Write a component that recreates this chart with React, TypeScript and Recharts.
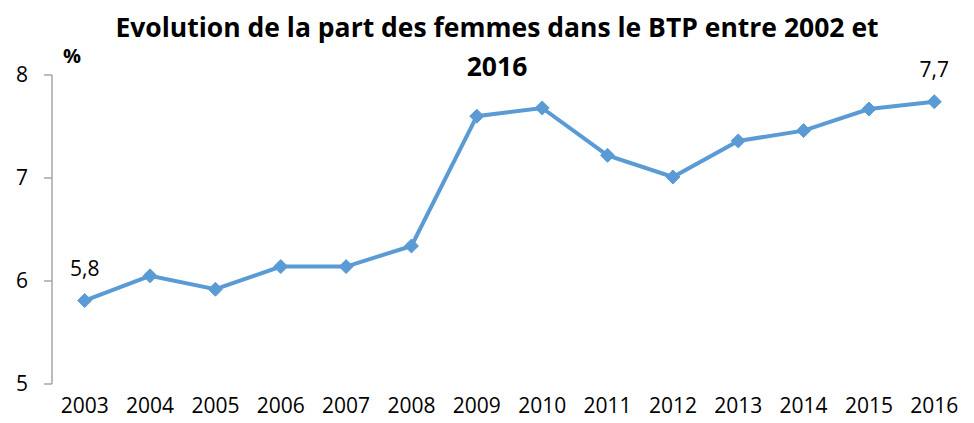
import React from "react";
import { LineChart, Line, XAxis, YAxis } from "recharts";

const years = ["2003","2004","2005","2006","2007","2008","2009","2010","2011","2012","2013","2014","2015","2016"];
const womenShare = [5.81, 6.05, 5.92, 6.14, 6.14, 6.34, 7.6, 7.68, 7.22, 7.01, 7.36, 7.46, 7.67, 7.74];
const yTicks = [5, 6, 7, 8];
const titleLine1 = "Evolution de la part des femmes dans le BTP entre 2002 et";
const titleLine2 = "2016";
const unitLabel = "%";

const data = years.map((y, i) => ({ pos: i + 0.5, year: y, value: womenShare[i] }));
const boundaryTicks = years.map((_, i) => i).concat([years.length]);
const centerTicks = years.map((_, i) => i + 0.5);

const FONT = "'Open Sans', sans-serif";
const BLUE = "#5B9BD5";
const AXIS = "#A6A6A6";

const Diamond = (props: any) => {
  const { cx, cy } = props;
  if (cx == null || cy == null) return null;
  const r = 7;
  return <polygon points={`${cx},${cy - r} ${cx + r},${cy} ${cx},${cy + r} ${cx - r},${cy}`} fill={BLUE} stroke={BLUE} />;
};

const EndLabel = (props: any) => {
  const { x, y, value, index } = props;
  if (index !== 0 && index !== years.length - 1) return null;
  return (
    <text x={x} y={y - 33} textAnchor="middle" dominantBaseline="central" fontFamily={FONT} fontSize={21} fill="#000">
      {Number(value).toFixed(1).replace(".", ",")}
    </text>
  );
};

export default function App() {
  return (
    <div style={{ position: "absolute", left: 0, top: 0, width: 974, height: 423, background: "#fff" }}>
      <div style={{ position: "absolute", left: 0, width: 994, top: 8, textAlign: "center", fontFamily: FONT, fontWeight: 700, fontSize: 26.5, lineHeight: "39px", color: "#000", whiteSpace: "nowrap" }}>
        {titleLine1}
        <br />
        {titleLine2}
      </div>
      <div style={{ position: "absolute", left: 63, top: 42, fontFamily: FONT, fontWeight: 700, fontSize: 20, color: "#000" }}>{unitLabel}</div>
      <LineChart width={974} height={423} data={data} margin={{ top: 75, right: 7, left: 0, bottom: 0 }}>
        <XAxis xAxisId="grid" type="number" dataKey="pos" domain={[0, years.length]} ticks={boundaryTicks} tick={false} height={0}
          axisLine={{ stroke: AXIS, strokeWidth: 1.5 }} tickLine={{ stroke: AXIS, strokeWidth: 1.5 }} tickSize={7} allowDataOverflow />
        <XAxis xAxisId="lab" type="number" dataKey="pos" domain={[0, years.length]} ticks={centerTicks}
          tickFormatter={(v: number) => years[Math.floor(v)]} axisLine={false} tickLine={false} height={39} tickSize={0} tickMargin={14}
          tick={{ fontFamily: FONT, fontSize: 21, fill: "#000" }} interval={0} />
        <YAxis type="number" domain={[5, 8]} ticks={yTicks} width={52} tickSize={8} tickMargin={16}
          axisLine={{ stroke: AXIS, strokeWidth: 1.5 }} tickLine={{ stroke: AXIS, strokeWidth: 1.5 }}
          tick={{ fontFamily: FONT, fontSize: 21, fill: "#000" }} />
        <Line xAxisId="grid" dataKey="value" stroke={BLUE} strokeWidth={4} dot={<Diamond />} activeDot={false}
          isAnimationActive={false} label={<EndLabel />} />
      </LineChart>
    </div>
  );
}
